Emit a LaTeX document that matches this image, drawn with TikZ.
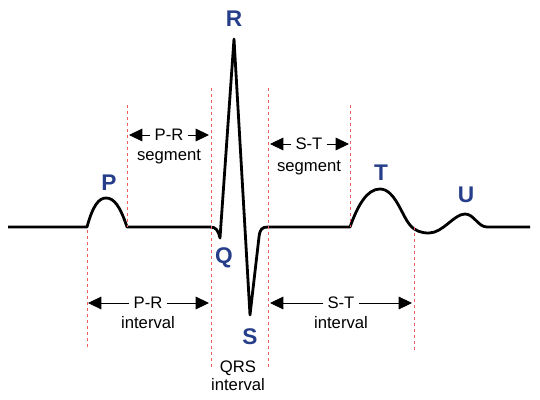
\documentclass[tikz,border=0pt]{standalone}
\usepackage{fontspec}
\setmainfont{Liberation Sans}
\usepackage{xcolor}
\usetikzlibrary{arrows.meta}
\definecolor{wavebl}{RGB}{38, 62, 138}
\definecolor{guidered}{RGB}{238, 96, 96}

\tikzset{
    txt/.style={font=\fontsize{12.5}{14}\selectfont, inner xsep=3pt, inner ysep=1pt},
    wavelbl/.style={font=\fontsize{17}{20}\selectfont\bfseries, text=wavebl},
    guide/.style={guidered, line width=0.6pt, dash pattern=on 2.5pt off 2pt},
    span/.style={->, line width=0.6pt}
}

\begin{document}
\begin{tikzpicture}[x=0.75pt, y=-0.75pt, >={Triangle[length=10pt, width=9.5pt]}]
    \useasboundingbox (0,0) rectangle (540,400);
    % ecg trace
    \draw[line width=2.1pt, line join=round]
        (8,227) -- (87,227)
        .. controls (93,205) and (99,198) .. (106,198)
        .. controls (114,198) and (120,206) .. (127,227)
        -- (210,227) .. controls (216,227) and (218,230) .. (220,238)
        -- (234,39) -- (250,315) -- (259,237)
        .. controls (260,229) and (262,227) .. (268,227)
        -- (350,227)
        .. controls (358,205) and (367,189) .. (380,189)
        .. controls (395,189) and (402,216) .. (410,225)
        .. controls (415,231) and (421,233) .. (429,233)
        .. controls (443,233) and (454,214) .. (465,214)
        .. controls (474,214) and (478,227) .. (487,227)
        -- (530,227);
    % red guides
    \foreach \x/\ya/\yb in {87/230/347, 127/105/227, 211/88/370, 268/88/370, 350/105/227, 414/227/350}
        \draw[guide] (\x,\ya) -- (\x,\yb);

    % wave letters
    \node[wavelbl] (p) at (109,183) {P};
    \node[wavelbl] (q) at (224,258) {Q};
    \node[wavelbl] (r) at (234,19) {R};
    \node[wavelbl] (s) at (250,337) {S};
    \node[wavelbl] (t) at (381,173) {T};
    \node[wavelbl] (u) at (466,195) {U};

    % P-R segment
    \coordinate (prseg-l) at (129,135);
    \coordinate (prseg-r) at (209,135);
    \node[txt] (prseg) at (169,135) {P-R};
    \node[txt, anchor=base] (prseg2) at (169,160) {segment};
    \draw[span] (prseg) -- (prseg-l);
    \draw[span] (prseg) -- (prseg-r);

    % S-T segment
    \coordinate (stseg-l) at (270,144);
    \coordinate (stseg-r) at (349,144);
    \node[txt] (stseg) at (309,144) {S-T};
    \node[txt, anchor=base] (stseg2) at (309,171) {segment};
    \draw[span] (stseg) -- (stseg-l);
    \draw[span] (stseg) -- (stseg-r);

    % P-R interval
    \coordinate (print-l) at (88,303);
    \coordinate (print-r) at (209,303);
    \node[txt] (print) at (148,303) {P-R};
    \node[txt, anchor=base] (print2) at (148,328) {interval};
    \draw[span] (print) -- (print-l);
    \draw[span] (print) -- (print-r);

    % S-T interval
    \coordinate (stint-l) at (270,303);
    \coordinate (stint-r) at (412,303);
    \node[txt] (stint) at (341,303) {S-T};
    \node[txt, anchor=base] (stint2) at (341,328) {interval};
    \draw[span] (stint) -- (stint-l);
    \draw[span] (stint) -- (stint-r);

    % QRS interval
    \node[txt, anchor=base] (qrs) at (238,372) {QRS};
    \node[txt, anchor=base] (qrs2) at (238,390) {interval};
\end{tikzpicture}
\end{document}
